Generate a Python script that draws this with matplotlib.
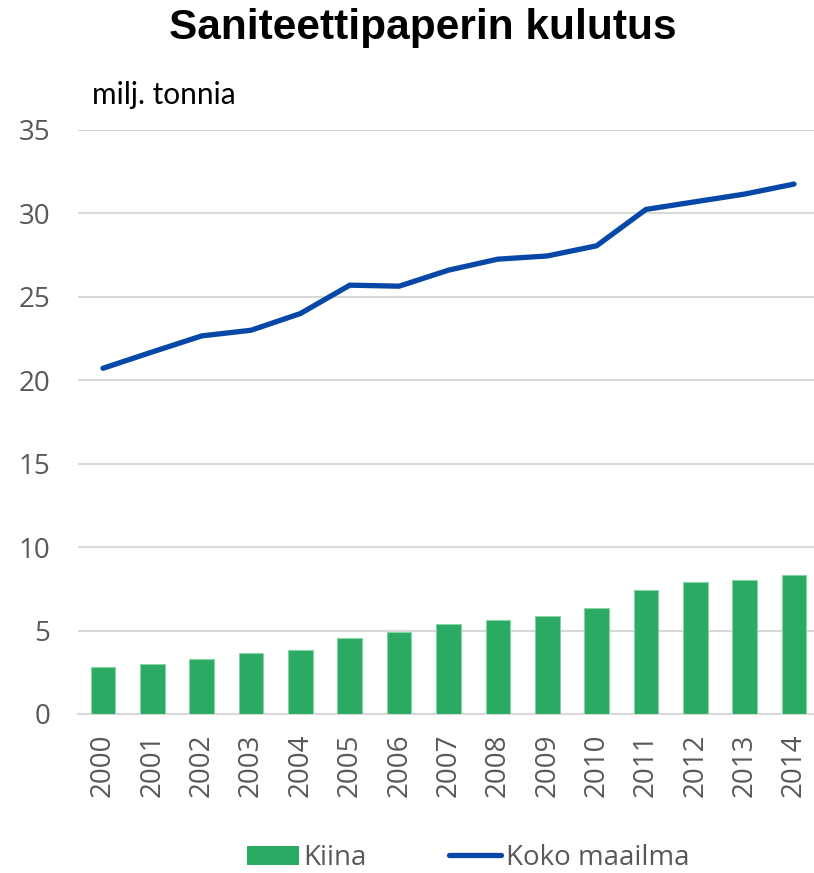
import numpy as np
import matplotlib.pyplot as plt
from matplotlib.patches import Patch
from matplotlib.lines import Line2D

#%% Data (milj. tonnia):

years = ['2000', '2001', '2002', '2003', '2004', '2005', '2006', '2007',
         '2008', '2009', '2010', '2011', '2012', '2013', '2014']
kiina = [2.81, 2.97, 3.29, 3.65, 3.82, 4.54, 4.92, 5.38,
         5.62, 5.90, 6.35, 7.45, 7.91, 8.01, 8.31]
koko_maailma = [20.72, 21.7, 22.66, 23.0, 24.0, 25.7, 25.64, 26.6,
                27.26, 27.45, 28.06, 30.24, 30.7, 31.16, 31.76]

green = '#2BAA63'
blue = '#0747A8'
grey_text = '#595959'
grid_col = '#D9D9D9'

#%% Plotting:

fig = plt.figure(figsize=(8.14, 8.73), dpi=100)
W, H = 814, 873
ax = fig.add_axes([78.3/W, (H-714)/H, 740.4/W, 584/H])

x = np.arange(len(years))
ax.bar(x, kiina, width=0.5, color=green, edgecolor='#86D3A6',
       linewidth=0.8, zorder=3)
ax.plot(x, koko_maailma, color=blue, lw=3.8, solid_capstyle='round',
        solid_joinstyle='round', zorder=4)

ax.set_xlim(-0.5, len(years)-0.5)
ax.set_ylim(0, 35)
ax.set_yticks(np.arange(0, 36, 5))
ax.yaxis.grid(True, color=grid_col, lw=1.5, zorder=0)
ax.set_axisbelow(True)
for s in ['top', 'right', 'left']:
    ax.spines[s].set_visible(False)
ax.spines['bottom'].set_color(grid_col)
ax.spines['bottom'].set_linewidth(1.5)

ax.set_xticks(x)
ax.set_xticklabels(years, rotation=90, family='Open Sans',
                   fontsize=20, color=grey_text)
for lab in ax.get_yticklabels():
    lab.set_family('Open Sans')
    lab.set_fontsize(20)
    lab.set_color(grey_text)
ax.tick_params(axis='both', length=0)
ax.tick_params(axis='x', pad=14)
ax.tick_params(axis='y', pad=20)

fig.text(423/W, 1 - 28/H, 'Saniteettipaperin kulutus', ha='center',
         va='center', fontsize=30.5, fontweight='bold',
         family='Liberation Sans')
fig.text(92/W, 1 - 95/H, 'milj. tonnia', ha='left', va='center',
         fontsize=21.5, family='Lato', color='black')

handles = [Patch(facecolor=green, edgecolor='none'),
           Line2D([0], [0], color=blue, lw=3.8, solid_capstyle='round')]
leg = fig.legend(handles, ['Kiina', 'Koko maailma'], loc='center',
                 bbox_to_anchor=(468/W, 1 - 858/H), ncol=2, frameon=False,
                 handlelength=1.87, handletextpad=0.18, columnspacing=2.95,
                 borderpad=0, prop={'family': 'Open Sans', 'size': 20})
for t in leg.get_texts():
    t.set_color(grey_text)

plt.savefig('out.png', dpi=100)
